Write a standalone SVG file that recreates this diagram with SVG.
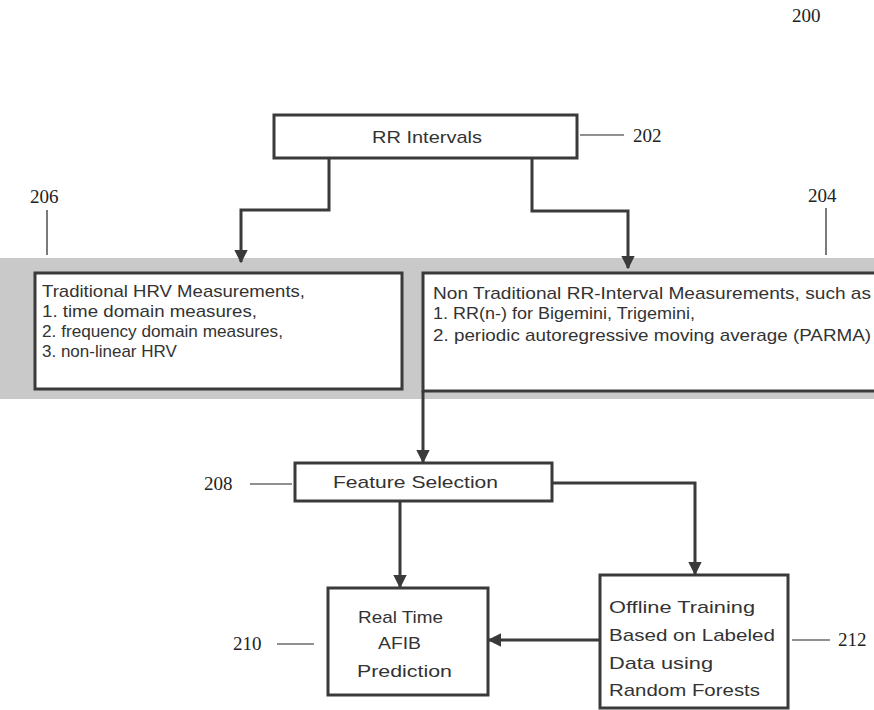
<svg xmlns="http://www.w3.org/2000/svg" width="874" height="710" viewBox="0 0 874 710">
<defs>
<style>
.box{fill:#fff;stroke:#3a3a3a;stroke-width:3}
.t{font-family:"Liberation Sans",Arial,sans-serif;font-size:17px;fill:#333}
.c{text-anchor:middle}
.n{font-family:"Liberation Serif",serif;font-size:19px;fill:#222}
.ln{stroke:#3a3a3a;stroke-width:3;fill:none}
.lead{stroke:#222;stroke-width:1.2;fill:none}
</style>
<marker id="ah" viewBox="0 0 10 10" refX="9" refY="5" markerWidth="4.5" markerHeight="4.5" orient="auto" markerUnits="strokeWidth">
<path d="M0,0 L10,5 L0,10 z" fill="#3a3a3a"/>
</marker>
</defs>
<rect width="874" height="710" fill="#fff"/>
<rect id="band" x="0" y="258" width="874" height="141" fill="#c9c9c9"/>

<g id="n202">
<rect class="box" x="274" y="115" width="303" height="43"/>
<text class="t" x="372" y="143" textLength="110" lengthAdjust="spacingAndGlyphs">RR Intervals</text>
</g>
<g id="n206">
<rect class="box" x="35" y="273" width="367" height="116"/>
<text class="t" x="42" y="297" textLength="263" lengthAdjust="spacingAndGlyphs">Traditional HRV Measurements,</text>
<text class="t" x="42" y="317" textLength="215" lengthAdjust="spacingAndGlyphs">1. time domain measures,</text>
<text class="t" x="42" y="337" textLength="241" lengthAdjust="spacingAndGlyphs">2. frequency domain measures,</text>
<text class="t" x="42" y="357">3. non-linear HRV</text>
</g>
<g id="n204">
<rect class="box" x="423" y="273" width="460" height="118"/>
<text class="t" x="433" y="299" textLength="438" lengthAdjust="spacingAndGlyphs">Non Traditional RR-Interval Measurements, such as</text>
<text class="t" x="433" y="319" textLength="262" lengthAdjust="spacingAndGlyphs">1. RR(n-) for Bigemini, Trigemini,</text>
<text class="t" x="433" y="341" textLength="438" lengthAdjust="spacingAndGlyphs">2. periodic autoregressive moving average (PARMA)</text>
</g>
<g id="n208">
<rect class="box" x="295" y="463" width="257" height="38"/>
<text class="t" x="333" y="488" textLength="165" lengthAdjust="spacingAndGlyphs">Feature Selection</text>
</g>
<g id="n210">
<rect class="box" x="328" y="588" width="160" height="107"/>
<text class="t" x="358" y="623" textLength="85" lengthAdjust="spacingAndGlyphs">Real Time</text>
<text class="t" x="378" y="649" textLength="43" lengthAdjust="spacingAndGlyphs">AFIB</text>
<text class="t" x="357" y="677" textLength="95" lengthAdjust="spacingAndGlyphs">Prediction</text>
</g>
<g id="n212">
<rect class="box" x="600" y="575" width="188" height="133"/>
<text class="t" x="609" y="613" textLength="146" lengthAdjust="spacingAndGlyphs">Offline Training</text>
<text class="t" x="609" y="641" textLength="166" lengthAdjust="spacingAndGlyphs">Based on Labeled</text>
<text class="t" x="609" y="669" textLength="104" lengthAdjust="spacingAndGlyphs">Data using</text>
<text class="t" x="609" y="696" textLength="151" lengthAdjust="spacingAndGlyphs">Random Forests</text>
</g>

<g id="connectors">
<path class="ln" d="M329,158 V210 H241 V262" marker-end="url(#ah)"/>
<path class="ln" d="M532,158 V211 H628 V268" marker-end="url(#ah)"/>
<path class="ln" d="M423,391 V462" marker-end="url(#ah)"/>
<path class="ln" d="M400,501 V587" marker-end="url(#ah)"/>
<path class="ln" d="M552,483 H695 V574" marker-end="url(#ah)"/>
<path class="ln" d="M600,640 H489" marker-end="url(#ah)"/>
</g>

<g id="labels">
<text class="n" x="792" y="22">200</text>
<path class="lead" d="M580,135 H624"/>
<text class="n" x="633" y="142">202</text>
<text class="n" x="30" y="203">206</text>
<path class="lead" d="M47,210 V255"/>
<text class="n" x="808" y="202">204</text>
<path class="lead" d="M826,208 V255"/>
<text class="n" x="204" y="490">208</text>
<path class="lead" d="M250,484 H292"/>
<text class="n" x="233" y="650">210</text>
<path class="lead" d="M277,644 H314"/>
<text class="n" x="838" y="646">212</text>
<path class="lead" d="M792,640 H830"/>
</g>
</svg>
